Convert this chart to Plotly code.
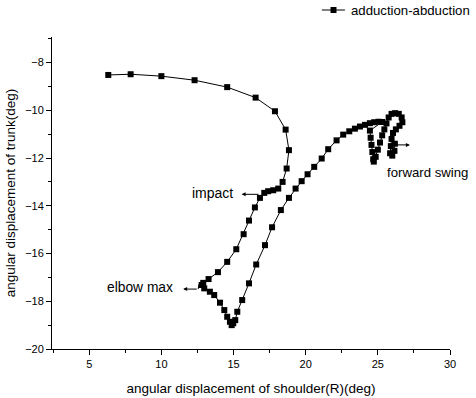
import plotly.graph_objects as go

# shoulder (x) and trunk (y) angular displacement
shoulder = [6.32, 7.87, 10.0, 12.3, 14.56, 16.53, 17.87, 18.61, 18.84, 18.68, 18.40,
            18.10, 17.75, 17.40, 17.13, 16.83, 16.48, 16.07, 15.70, 15.19, 14.56, 13.92,
            13.27, 12.90, 12.79, 12.97, 13.36, 13.66, 14.06, 14.36, 14.56, 14.75, 14.87,
            14.98, 15.12, 15.26, 15.60, 16.07, 16.57, 17.18, 17.67, 18.28, 18.84, 19.30,
            19.72, 20.13, 20.59, 21.11, 21.56, 22.14, 22.60, 23.02, 23.41, 23.76, 24.11,
            24.45, 24.75, 25.05, 25.30, 24.45, 24.50, 24.56, 24.62, 24.68, 24.72, 24.85,
            25.0, 25.15, 25.3, 25.45, 25.6, 25.75, 25.95, 26.2, 26.45, 26.65, 26.7, 26.5,
            26.25, 26.05, 25.95, 25.9, 25.85, 26.0, 26.15, 26.18]
trunk = [-8.52, -8.49, -8.57, -8.74, -9.03, -9.47, -10.04, -10.81, -11.67, -12.44, -13.0,
         -13.28, -13.35, -13.39, -13.46, -13.67, -14.07, -14.62, -15.19, -15.82, -16.35, -16.78,
         -17.07, -17.23, -17.32, -17.46, -17.60, -17.74, -18.06, -18.37, -18.65, -18.86, -19.0,
         -18.92, -18.79, -18.44, -17.95, -17.25, -16.46, -15.65, -14.90, -14.18, -13.67, -13.28,
         -12.97, -12.68, -12.37, -12.02, -11.63, -11.26, -11.02, -10.88, -10.77, -10.68, -10.61,
         -10.54, -10.50, -10.48, -10.49, -10.85, -11.15, -11.45, -11.75, -12.05, -12.15, -11.95,
         -11.65, -11.35, -11.05, -10.8, -10.55, -10.3, -10.15, -10.12, -10.15, -10.3, -10.5, -10.65,
         -10.8, -10.95, -11.2, -11.5, -11.8, -11.9, -11.7, -11.4]

series_name = "adduction-abduction"
x_title = "angular displacement of shoulder(R)(deg)"
y_title = "angular displacement of trunk(deg)"

# annotations: label, text position, arrow head, arrow tail
labels = ["impact", "elbow max", "forward swing"]
label_x = [15.1, 10.95, 1.05]          # last one in paper coordinates (right edge)
label_xref = ["x", "x", "paper"]
label_y = [-13.47, -17.43, -12.62]
label_anchor = ["right", "right", "right"]
label_size = [14, 13.8, 13.2]
arrow_head_x = [15.56, 11.51, 27.22]
arrow_head_y = [-13.52, -17.49, -11.45]
arrow_tail_x = [16.83, 12.55, 26.18]
arrow_tail_y = [-13.52, -17.49, -11.45]

FONT = "Arial, Liberation Sans, sans-serif"

fig = go.Figure()
fig.add_trace(go.Scatter(
    x=shoulder, y=trunk, mode="lines+markers", name=series_name,
    line=dict(color="black", width=1),
    marker=dict(symbol="square", size=6, color="black"),
    showlegend=False,
))

for t, tx, xr, ty, anc, sz in zip(labels, label_x, label_xref, label_y, label_anchor, label_size):
    fig.add_annotation(x=tx, xref=xr, y=ty, text=t, showarrow=False, xanchor=anc,
                       yanchor="middle", font=dict(family=FONT, size=sz, color="black"))

for hx, hy, tx, ty in zip(arrow_head_x, arrow_head_y, arrow_tail_x, arrow_tail_y):
    fig.add_annotation(x=hx, y=hy, ax=tx, ay=ty, axref="x", ayref="y", text="",
                       showarrow=True, arrowhead=2, arrowsize=0.8, arrowwidth=1,
                       arrowcolor="black", standoff=0, startstandoff=0)

# small hook at the end of the elbow max arrow
fig.add_shape(type="line", x0=arrow_tail_x[1], y0=arrow_tail_y[1],
              x1=arrow_tail_x[1] + 0.05, y1=arrow_tail_y[1] + 0.2,
              line=dict(color="black", width=1))

# legend drawn by hand in the top margin (paper coordinates)
leg_y = 1.0865
fig.add_shape(type="line", xref="paper", yref="paper", x0=0.678, x1=0.736, y0=leg_y, y1=leg_y,
              line=dict(color="black", width=1))
fig.add_shape(type="rect", xref="paper", yref="paper", x0=0.7073 - 0.0075, x1=0.7073 + 0.0075,
              y0=leg_y - 0.0096, y1=leg_y + 0.0096, fillcolor="black", line=dict(width=0))
fig.add_annotation(xref="paper", yref="paper", x=1.055, y=leg_y, text=series_name,
                   showarrow=False, xanchor="right", yanchor="middle",
                   font=dict(family=FONT, size=13.2, color="black"))

fig.update_layout(
    width=476, height=398,
    margin=dict(l=52, r=26, t=37, b=49),
    paper_bgcolor="white", plot_bgcolor="white",
    font=dict(family=FONT, size=11, color="black"),
    showlegend=False,
)
fig.update_xaxes(
    range=[2.42, 30], showline=True, linecolor="black", linewidth=1, automargin=False,
    showgrid=False, zeroline=False, ticks="outside", ticklen=5, tickcolor="black",
    tick0=0, dtick=5, tickfont=dict(size=11),
    minor=dict(ticks="outside", ticklen=3, dtick=2.5, tick0=0, tickcolor="black", showgrid=False),
    title=dict(text=x_title, font=dict(size=13.5), standoff=14),
)
fig.update_yaxes(
    range=[-20, -6.93], showline=True, linecolor="black", linewidth=1, automargin=False,
    showgrid=False, zeroline=False, ticks="outside", ticklen=5, tickcolor="black",
    tick0=0, dtick=2, tickfont=dict(size=11),
    minor=dict(ticks="outside", ticklen=3, dtick=1, tick0=0, tickcolor="black", showgrid=False),
    title=dict(text=y_title, font=dict(size=13.5), standoff=6),
)

fig.write_html("out.html")
